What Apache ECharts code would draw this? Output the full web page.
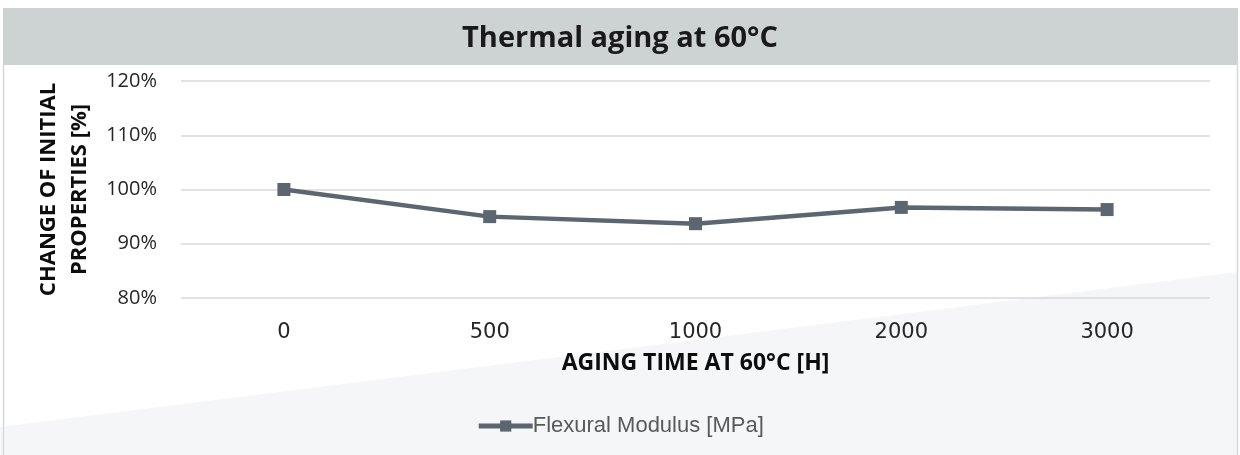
<!DOCTYPE html>
<html>
<head>
<meta charset="utf-8">
<script src="https://cdn.jsdelivr.net/npm/echarts@6/dist/echarts.min.js"></script>
<style>
  html, body { margin: 0; padding: 0; background: #fff; }
  #chart { width: 1240px; height: 455px; }
</style>
</head>
<body>
<div id="chart"></div>
<script>
const hours = ['0', '500', '1000', '2000', '3000'];
const flexuralModulus = [100, 95, 93.7, 96.7, 96.3];
const yTicks = [80, 90, 100, 110, 120];

const chart = echarts.init(document.getElementById('chart'));
chart.setOption({
  animation: false,
  backgroundColor: '#ffffff',
  graphic: [
    // light diagonal panel at the bottom
    { type: 'polygon', z: -10, silent: true,
      shape: { points: [[0, 427], [1237, 272], [1237, 455], [0, 455]] },
      style: { fill: '#f5f6f8' } },
    // title bar
    { type: 'rect', z: -5, silent: true,
      shape: { x: 3, y: 8, width: 1235, height: 57 },
      style: { fill: '#cdd3d3' } },
    { type: 'line', silent: true,
      shape: { x1: 3.5, y1: 65, x2: 3.5, y2: 455 },
      style: { stroke: '#d5d9d9', lineWidth: 1.5 } },
    { type: 'line', silent: true,
      shape: { x1: 1237.5, y1: 60, x2: 1237.5, y2: 455 },
      style: { stroke: '#d5d9d9', lineWidth: 1.5 } }
  ],
  title: {
    text: 'Thermal aging at 60°C',
    left: 'center',
    top: 19,
    textStyle: { fontFamily: 'Open Sans', fontWeight: 'bold', fontSize: 29, color: '#1a1a1a' }
  },
  grid: { left: 181, right: 30, top: 81, bottom: 157 },
  legend: {
    bottom: 13,
    left: 'center',
    itemWidth: 54,
    itemHeight: 14,
    itemGap: 0,
    lineStyle: { width: 5 },
    textStyle: { fontFamily: 'Liberation Sans', fontSize: 22, color: '#595959', padding: [0, 0, 0, -5] },
    data: ['Flexural Modulus [MPa]']
  },
  xAxis: {
    type: 'category',
    data: hours,
    boundaryGap: true,
    axisLine: { show: false },
    axisTick: { show: false },
    axisLabel: { margin: 24, fontFamily: 'DejaVu Sans', fontSize: 21, color: '#262626' },
    name: 'AGING TIME AT 60°C [H]',
    nameLocation: 'middle',
    nameGap: 54,
    nameTextStyle: { fontFamily: 'Open Sans', fontWeight: 'bold', fontSize: 23, color: '#0d0d0d' }
  },
  yAxis: {
    type: 'value',
    min: yTicks[0],
    max: yTicks[yTicks.length - 1],
    interval: 10,
    axisLine: { show: false },
    axisTick: { show: false },
    splitLine: { lineStyle: { color: '#d9d9d9', width: 1.5 } },
    axisLabel: { margin: 24, fontFamily: 'Open Sans', fontSize: 20, color: '#262626', formatter: '{value}%' },
    name: 'CHANGE OF INITIAL\nPROPERTIES [%]',
    nameLocation: 'middle',
    nameGap: 84,
    nameTextStyle: { fontFamily: 'Open Sans', fontWeight: 'bold', fontSize: 22, color: '#0d0d0d', lineHeight: 31 }
  },
  series: [{
    name: 'Flexural Modulus [MPa]',
    type: 'line',
    data: flexuralModulus,
    symbol: 'rect',
    symbolSize: 13,
    lineStyle: { color: '#5b6670', width: 4.5 },
    itemStyle: { color: '#5b6670' }
  }]
});
</script>
</body>
</html>
